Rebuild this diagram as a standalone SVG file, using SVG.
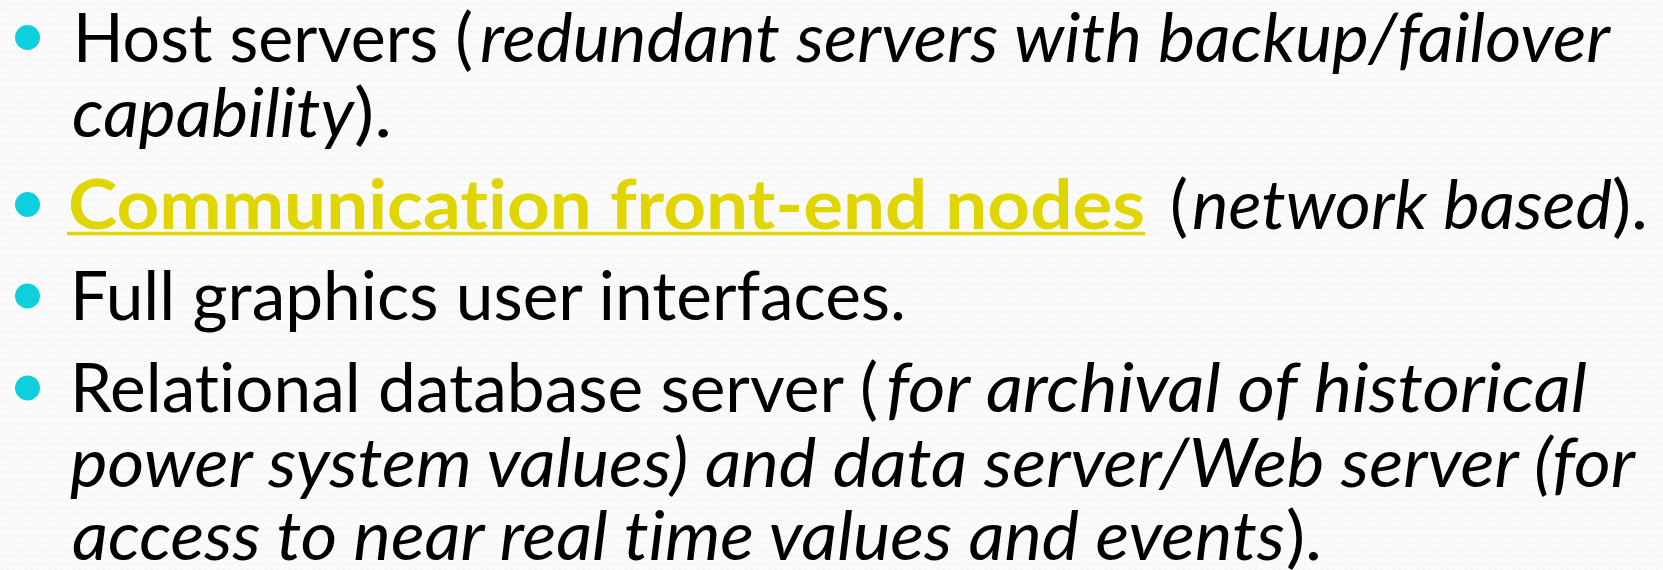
<svg xmlns="http://www.w3.org/2000/svg" width="1663" height="570" viewBox="0 0 1663 570">
  <defs>
    <!-- faint woven zigzag texture of the slide background -->
    <pattern id="weave" width="6" height="7" patternUnits="userSpaceOnUse">
      <path d="M0 3.5 L1.5 2 L3 3.5 L4.5 5 L6 3.5" fill="none" stroke="#ececec" stroke-width="0.8"/>
    </pattern>
  </defs>
  <style>
    text { font-family: Lato, "Open Sans", "Liberation Sans", sans-serif; font-size: 68px; fill: #000;
           font-variant-ligatures: none; font-feature-settings: "liga" 0, "dlig" 0; }
    .it { font-style: italic; }
    .hl { font-weight: bold; fill: #e1d500; }
    .dot { fill: #0ed0dc; }
    .ul { stroke: #e1d500; stroke-width: 3.5; }
  </style>

  <rect width="1663" height="570" fill="#fbfbfb"/>
  <rect width="1663" height="570" fill="url(#weave)"/>

  <!-- item 1 -->
  <g id="item-host-servers">
    <circle class="dot" cx="27.5" cy="37.5" r="12.5"/>
    <text x="73" y="62" textLength="400" lengthAdjust="spacingAndGlyphs">Host servers (</text>
    <text class="it" x="480" y="62" textLength="1130" lengthAdjust="spacingAndGlyphs">redundant servers with backup/failover</text>
    <text class="it" x="72" y="137" textLength="282" lengthAdjust="spacingAndGlyphs">capability</text>
    <text x="354" y="137" textLength="38" lengthAdjust="spacingAndGlyphs">).</text>
  </g>

  <!-- item 2 -->
  <g id="item-front-end">
    <circle class="dot" cx="27.5" cy="204.5" r="12.5"/>
    <text class="hl" x="68" y="229" textLength="1077" lengthAdjust="spacingAndGlyphs">Communication front-end nodes</text>
    <line class="ul" x1="67" y1="233.5" x2="1145" y2="233.5"/>
    <text x="1170" y="229" textLength="18" lengthAdjust="spacingAndGlyphs">(</text>
    <text class="it" x="1192" y="229" textLength="420" lengthAdjust="spacingAndGlyphs">network based</text>
    <text x="1612" y="229" textLength="36" lengthAdjust="spacingAndGlyphs">).</text>
  </g>

  <!-- item 3 -->
  <g id="item-graphics">
    <circle class="dot" cx="27.5" cy="296" r="12.5"/>
    <text x="70" y="320" textLength="836" lengthAdjust="spacingAndGlyphs">Full graphics user interfaces.</text>
  </g>

  <!-- item 4 -->
  <g id="item-database">
    <circle class="dot" cx="27.5" cy="388" r="12.5"/>
    <text x="70" y="412" textLength="808" lengthAdjust="spacingAndGlyphs">Relational database server (</text>
    <text class="it" x="886" y="412" textLength="701" lengthAdjust="spacingAndGlyphs">for archival of historical</text>
    <text class="it" x="70" y="487" textLength="1565" lengthAdjust="spacingAndGlyphs">power system values) and data server/Web server (for</text>
    <text class="it" x="72" y="560" textLength="1213" lengthAdjust="spacingAndGlyphs">access to near real time values and events</text>
    <text x="1286" y="560" textLength="36" lengthAdjust="spacingAndGlyphs">).</text>
  </g>
</svg>
